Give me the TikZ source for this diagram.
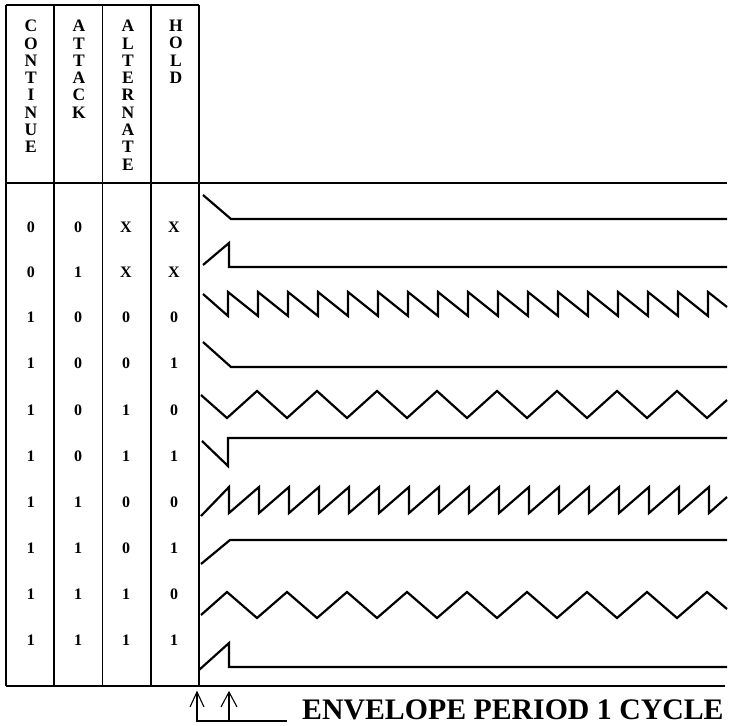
\documentclass[tikz,border=0pt]{standalone}
\usepackage{fontspec}
\setmainfont{Liberation Serif}
\begin{document}
\begin{tikzpicture}[x=1pt,y=-1pt,
  gridline/.style={line width=1.3pt},
  wave/.style={line width=2.2pt, line join=miter},
  hdr/.style={font=\fontsize{17.5}{17.3}\selectfont\bfseries, align=center, anchor=north, inner sep=0pt},
  val/.style={font=\fontsize{16}{16}\selectfont\bfseries, inner sep=0pt},
  ptr/.style={line width=1.1pt}]
\useasboundingbox (0,0) rectangle (729,726);
% table frame
\draw[gridline] (6,5) -- (199,5);
\foreach \x in {6,54,102.5,151,199} { \draw[gridline] (\x,5) -- (\x,686); }
\draw[gridline] (6,183) -- (727,183);
\draw[gridline] (6,686) -- (725,686);
% headers
\node[hdr] (hc) at (31,20) {C\\O\\N\\T\\I\\N\\U\\E};
\node[hdr] (ha) at (79,20) {A\\T\\T\\A\\C\\K};
\node[hdr] (hal) at (128,20) {A\\L\\T\\E\\R\\N\\A\\T\\E};
\node[hdr] (hh) at (176,20) {H\\O\\L\\D};
% values
\foreach \r/\y/\a/\b/\c/\d in {1/227/0/0/X/X, 2/272/0/1/X/X, 3/317/1/0/0/0, 4/363/1/0/0/1, 5/410/1/0/1/0, 6/456/1/0/1/1, 7/502/1/1/0/0, 8/548/1/1/0/1, 9/594/1/1/1/0, 10/640/1/1/1/1} {
  \node[val] (v\r a) at (31,\y) {\a};
  \node[val] (v\r b) at (78,\y) {\b};
  \node[val] (v\r c) at (126,\y) {\c};
  \node[val] (v\r d) at (174,\y) {\d};
}
% waveforms
\draw[wave] (203,195) -- (231,219) -- (727,219);
\draw[wave] (203,265) -- (229,243) -- (229,267) -- (727,267);
\draw[wave] (203,294) foreach \k in {0,...,16} { -- ({228+30*\k},316) -- ({228+30*\k},292) } -- (727,307);
\draw[wave] (203,342) -- (231,367) -- (727,367);
\draw[wave] (201,395) foreach \k in {0,...,7} { -- ({227+60*\k},418) -- ({257+60*\k},391) } -- (707,418) -- (727,400);
\draw[wave] (202,441) -- (228,466) -- (228,438) -- (727,438);
\draw[wave] (201,516) foreach \k in {0,...,16} { -- ({229+30*\k},487) -- ({229+30*\k},513) } -- (727,497);
\draw[wave] (201,564) -- (230,540) -- (727,540);
\draw[wave] (201,615) foreach \k in {0,...,7} { -- ({227+60*\k},592) -- ({257+60*\k},618) } -- (707,592) -- (727,609);
\draw[wave] (199,670) -- (229,643) -- (229,667) -- (727,667);
% period pointers
\coordinate (p1) at (197,692);
\coordinate (p2) at (229,692);
\coordinate (c1) at (197,721);
\coordinate (c2) at (229,721);
\coordinate (e) at (287,721);
\draw[ptr] (p1) -- (c1) -- (e);
\draw[ptr] (p2) -- (c2);
\draw[ptr] (190,707) -- (p1) -- (204,707);
\draw[ptr] (221,707) -- (p2) -- (237,707);
\node[font=\fontsize{29.8}{29.8}\selectfont\bfseries, anchor=base west, inner sep=0pt, text depth=0pt] (lbl) at (302,719) {ENVELOPE PERIOD 1 CYCLE};
\end{tikzpicture}
\end{document}
